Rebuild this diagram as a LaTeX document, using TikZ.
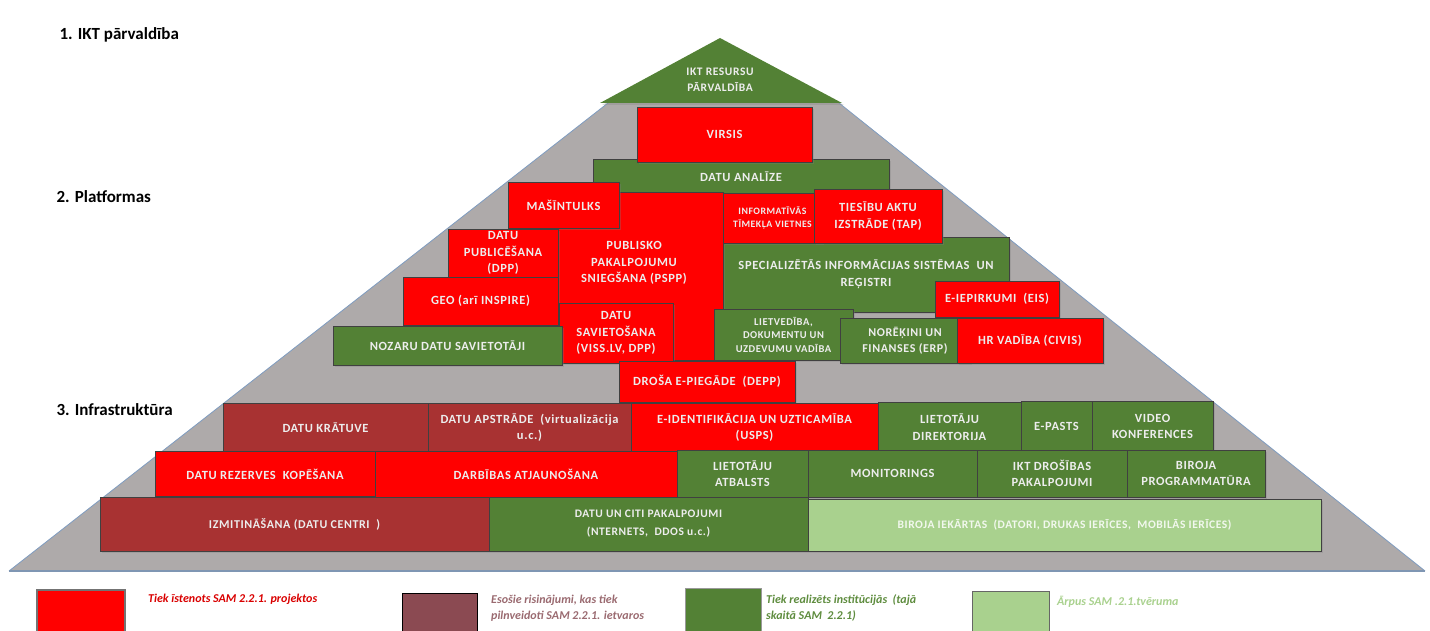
\documentclass[tikz,border=0pt]{standalone}
\usepackage{fontspec}
\setmainfont{Carlito}
\newfontfamily\boxfont[LetterSpace=5]{Carlito}
\usetikzlibrary{shadows}
\definecolor{cred}{HTML}{FF0000}
\definecolor{cdred}{HTML}{A83232}
\definecolor{cgreen}{HTML}{538135}
\definecolor{clgreen}{HTML}{A9D18E}
\definecolor{cgray}{HTML}{AEAAAA}
\definecolor{cedge}{HTML}{7F9CC0}
\definecolor{ctxt}{HTML}{EDEDED}
\definecolor{cbrown}{HTML}{8B4A52}
\definecolor{cbrowntxt}{HTML}{9A6A70}
\definecolor{cgreentxt}{HTML}{5E8C3E}
\newcommand{\fs}[2]{\boxfont\bfseries\fontsize{#1}{#2}\selectfont}
\tikzset{
  x=1pt, y=-1pt,
  box/.style={draw=black!75, line width=0.7pt, text=ctxt, font=\fs{12.5}{16.5}, align=center, inner sep=1pt,
    drop shadow={opacity=0.3, shadow xshift=2pt, shadow yshift=-2pt}},
  rb/.style={box, fill=cred},
  db/.style={box, fill=cdred},
  gb/.style={box, fill=cgreen},
  lb/.style={box, fill=clgreen, text=white!85!clgreen},
  wh/.style 2 args={minimum width=#1, minimum height=#2},
  heading/.style={anchor=west, font=\bfseries\fontsize{17}{19}\selectfont, text=black},
  legsq/.style={anchor=north west, minimum width=#1, minimum height=50, inner sep=0},
  legtxt/.style={anchor=north west, align=left, inner sep=0, font=\bfseries\itshape\fontsize{12}{16}\selectfont},
}
\begin{document}
\begin{tikzpicture}
\useasboundingbox (0,0) rectangle (1430,631);
\clip (0,0) rectangle (1430,631);
% pyramid body
\fill[cgray] (9,571) -- (608,103) -- (839,103) -- (1425,571) -- cycle;
\draw[cedge, line width=0.8pt] (9,571) -- (608,103);
\draw[cedge, line width=0.8pt] (839,103) -- (1425,571);
\draw[cedge!80!gray, line width=1.2pt] (9,571) -- (1425,571);
% top triangle
\fill[cgreen, drop shadow={opacity=0.3, shadow xshift=2pt, shadow yshift=-2pt}] (600,103) -- (720,38) -- (842,103) -- cycle;
\node[text=ctxt, font=\fs{11.5}{16}, align=center] (ikt) at (720,80) {IKT RESURSU\\PĀRVALDĪBA};

% headings
\node[heading] (h1) at (56,35) {1. IKT pārvaldība};
\node[heading] (h2) at (53,197) {2. Platformas};
\node[heading] (h3) at (53,410) {3. Infrastruktūra};

% platform boxes
\node[gb, wh={296}{36}] (analize) at (741,177) {DATU ANALĪZE};
\node[rb, wh={175}{55}] (virsis) at (724.5,134.5) {VIRSIS};
\node[gb, wh={286}{75}] (spec) at (866,274.5) {SPECIALIZĒTĀS INFORMĀCIJAS SISTĒMAS \ UN\\REĢISTRI};
\node[rb, wh={165}{168}] (pspp) at (640.5,276) {};
\node[text=ctxt, font=\fs{12.5}{16.5}, align=center] (pspptxt) at (634,263) {PUBLISKO\\PAKALPOJUMU\\SNIEGŠANA (PSPP)};
\node[rb, wh={111}{46}] (masin) at (563.5,205) {MAŠĪNTULKS};
\node[rb, wh={99}{50}, font=\fs{9.8}{13}] (info) at (772.5,218) {INFORMATĪVĀS\\TĪMEKĻA VIETNES};
\node[rb, wh={128}{54}] (tap) at (878,216) {TIESĪBU AKTU\\IZSTRĀDE (TAP)};
\node[rb, wh={110}{48}] (publ) at (503,253) {DATU\\PUBLICĒŠANA\\(DPP)};
\node[rb, wh={155}{48}] (geo) at (480.5,301) {GEO (arī INSPIRE)};
\node[rb, wh={114}{60}] (savie) at (616,333) {DATU\\SAVIETOŠANA\\(VISS.LV, DPP)};
\node[gb, wh={229}{39}] (nozaru) at (447.5,345.5) {NOZARU DATU SAVIETOTĀJI};
\node[gb, wh={139}{51}, font=\fs{10.5}{13.5}] (lietv) at (783.5,334.5) {LIETVEDĪBA,\\DOKUMENTU UN\\UZDEVUMU VADĪBA};
\node[rb, wh={124}{36}] (eis) at (997,299) {E-IEPIRKUMI \ (EIS)};
\node[gb, wh={130}{45}, font=\fs{12}{16}] (erp) at (905,340.5) {NORĒĶINI UN\\FINANSES (ERP)};
\node[rb, wh={146}{45}] (hr) at (1030,340.5) {HR VADĪBA (CIVIS)};
\node[rb, wh={176}{41}] (depp) at (707,381.5) {DROŠA E-PIEGĀDE \ (DEPP)};

% infrastructure row a
\node[db, wh={205}{49}] (kratuve) at (325.5,427.5) {DATU KRĀTUVE};
\node[db, wh={203}{49}] (apstr) at (529.5,427.5) {DATU APSTRĀDE \ (virtualizācija\\u.c.)};
\node[rb, wh={247}{49}] (eid) at (754.5,427.5) {E-IDENTIFIKĀCIJA UN UZTICAMĪBA\\(USPS)};
\node[gb, wh={143}{50}] (dir) at (949.5,427) {LIETOTĀJU\\DIREKTORIJA};
\node[gb, wh={71}{51}] (epasts) at (1056.5,426.5) {E-PASTS};
\node[gb, wh={121}{51}] (video) at (1152.5,426.5) {VIDEO\\KONFERENCES};
% row b
\node[rb, wh={220}{45}] (rez) at (265,474) {DATU REZERVES \ KOPĒŠANA};
\node[rb, wh={302}{46}] (darb) at (526,474.5) {DARBĪBAS ATJAUNOŠANA};
\node[gb, wh={131}{47}] (atb) at (742.5,473.5) {LIETOTĀJU\\ATBALSTS};
\node[gb, wh={169}{47}] (mon) at (892.5,473.5) {MONITORINGS};
\node[gb, wh={150}{47}] (drosib) at (1052,473.5) {IKT DROŠĪBAS\\PAKALPOJUMI};
\node[gb, wh={138}{47}] (progr) at (1196,473.5) {BIROJA\\PROGRAMMATŪRA};
% row c
\node[db, wh={389}{54}, font=\fs{12}{16}] (izmit) at (294.5,524) {IZMITINĀŠANA (DATU CENTRI \ )};
\node[gb, wh={319}{54}, font=\fs{11.5}{18}] (citi) at (648.5,524) {DATU UN CITI PAKALPOJUMI\\(NTERNETS, \ DDOS u.c.)};
\node[lb, wh={513}{52}, font=\fs{11.5}{16}] (iekartas) at (1064.5,525) {BIROJA IEKĀRTAS \ (DATORI, DRUKAS IERĪCES, \ MOBILĀS IERĪCES)};

% legend
\node[legsq=88, fill=cred, draw=black!55, line width=1.5pt] (l1) at (36,589) {};
\node[legtxt, text=cred!85!black] (t1) at (148,594) {Tiek īstenots SAM 2.2.1. projektos};
\node[legsq=75, fill=cbrown, draw=black, line width=0.7pt] (l2) at (402,593) {};
\node[legtxt, text=cbrowntxt] (t2) at (491,595) {Esošie risinājumi, kas tiek\\pilnveidoti SAM 2.2.1. ietvaros};
\node[legsq=76, fill=cgreen, draw=black!40, line width=0.7pt] (l3) at (685,588) {};
\node[legtxt, text=cgreentxt] (t3) at (766,594) {Tiek realizēts institūcijās \ (tajā\\skaitā SAM \ 2.2.1)};
\node[legsq=77, fill=clgreen, draw=black!60, line width=0.7pt] (l4) at (972,591) {};
\node[legtxt, text=clgreen] (t4) at (1057,596) {Ārpus SAM .2.1.tvēruma};
\end{tikzpicture}
\end{document}
